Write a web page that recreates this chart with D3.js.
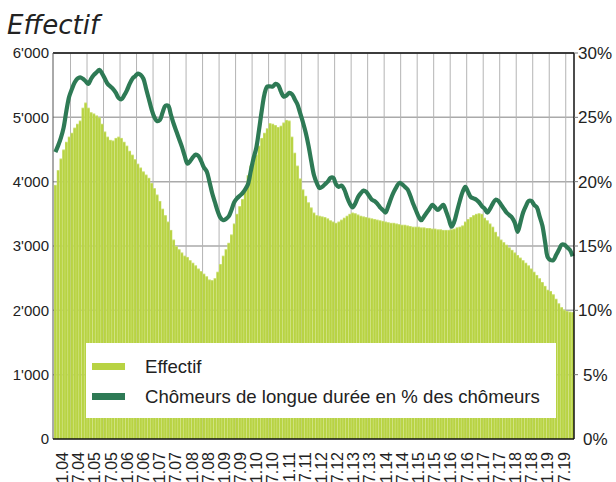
<!DOCTYPE html>
<html>
<head>
<meta charset="utf-8">
<script src="https://cdn.jsdelivr.net/npm/d3@7"></script>
<style>
  body { margin: 0; background: #fff; }
  svg { display: block; font-family: "Liberation Sans", Arial, sans-serif; }
</style>
</head>
<body>
<div id="chart"></div>
<script>
// Data: monthly values, 1.2004 -> 9.2019
const effectif = [
  3950, 4180, 4360, 4500, 4620, 4700, 4760, 4840, 4900, 4950, 5150, 5230, // 2004
  5150, 5080, 5060, 5030, 5000, 4900, 4780, 4700, 4650, 4640, 4680, 4700, // 2005
  4680, 4620, 4560, 4480, 4420, 4350, 4280, 4220, 4160, 4110, 4060, 3980, // 2006
  3900, 3800, 3700, 3580, 3480, 3380, 3250, 3100, 3000, 2950, 2900, 2850, // 2007
  2830, 2780, 2740, 2700, 2650, 2610, 2570, 2530, 2480, 2470, 2500, 2600, // 2008
  2720, 2850, 2950, 3050, 3180, 3350, 3500, 3620, 3730, 3900, 4100, 4250, // 2009
  4300, 4420, 4560, 4680, 4760, 4830, 4910, 4900, 4880, 4850, 4870, 4920, // 2010
  4960, 4950, 4700, 4450, 4250, 4050, 3880, 3780, 3680, 3600, 3520, 3480, // 2011
  3470, 3460, 3450, 3430, 3400, 3380, 3360, 3380, 3410, 3440, 3470, 3500, // 2012
  3520, 3510, 3490, 3470, 3460, 3450, 3440, 3430, 3420, 3410, 3400, 3390, // 2013
  3380, 3370, 3360, 3360, 3350, 3340, 3330, 3330, 3320, 3310, 3300, 3300, // 2014
  3300, 3290, 3290, 3280, 3280, 3270, 3270, 3260, 3260, 3250, 3250, 3250, // 2015
  3260, 3270, 3290, 3300, 3320, 3380, 3420, 3450, 3480, 3500, 3510, 3500, // 2016
  3440, 3400, 3350, 3300, 3220, 3150, 3100, 3060, 3020, 2980, 2940, 2900, // 2017
  2860, 2820, 2780, 2740, 2700, 2650, 2600, 2550, 2500, 2440, 2380, 2320, // 2018
  2300, 2250, 2180, 2110, 2050, 2010, 1990, 1980, 1975                    // 2019
];

// Chômeurs de longue durée en % des chômeurs
const partLongueDuree = [
  22.3, 22.8, 23.4, 24.2, 25.5, 26.6, 27.2, 27.7, 28.0, 28.1, 28.0, 27.8,
  27.6, 28.0, 28.3, 28.5, 28.7, 28.4, 28.0, 27.6, 27.4, 27.2, 26.9, 26.5,
  26.4, 26.7, 27.1, 27.6, 28.0, 28.2, 28.4, 28.3, 28.0, 27.2, 26.4, 25.6,
  25.0, 24.7, 24.8, 25.4, 25.9, 25.9, 25.2, 24.5, 23.9, 23.3, 22.7, 22.0,
  21.4, 21.6, 21.9, 22.1, 22.0, 21.6, 21.1, 20.8, 20.0, 19.1, 18.4, 17.7,
  17.2, 17.0, 17.1, 17.3, 17.8, 18.4, 18.7, 18.9, 19.1, 19.4, 19.8, 20.8,
  21.8, 22.6, 24.0, 25.5, 26.8, 27.4, 27.4, 27.4, 27.6, 27.5, 27.0, 26.6,
  26.7, 26.9, 26.8, 26.4, 26.0, 25.3, 24.6, 23.8, 22.8, 21.6, 20.5, 19.9,
  19.5, 19.6, 19.8, 20.0, 20.3, 20.3, 19.8, 19.6, 19.7, 19.4, 18.8, 18.3,
  18.0, 18.3, 18.8, 19.1, 19.3, 19.2, 18.9, 18.6, 18.5, 18.3, 18.0, 17.8,
  17.6, 18.1, 18.7, 19.2, 19.6, 19.9, 19.8, 19.6, 19.4, 18.9, 18.3, 17.8,
  17.3, 17.0, 17.3, 17.6, 17.9, 18.2, 18.0, 17.8, 18.0, 18.2, 17.7, 17.1,
  16.5, 16.9, 17.7, 18.5, 19.2, 19.6, 19.2, 18.8, 18.7, 18.6, 18.4, 18.1,
  17.9, 17.6, 17.9, 18.3, 18.6, 18.5, 18.2, 17.9, 17.6, 17.4, 17.2, 16.8,
  16.1, 16.8, 17.6, 18.1, 18.5, 18.5, 18.2, 18.0, 17.3, 16.6, 15.3, 14.1,
  13.9, 13.9, 14.3, 14.7, 15.1, 15.1, 14.9, 14.7, 14.2
];

const xLabels = [
  "1.04","7.04","1.05","7.05","1.06","7.06","1.07","7.07",
  "1.08","7.08","1.09","7.09","1.10","7.10","1.11","7.11",
  "1.12","7.12","1.13","7.13","1.14","7.14","1.15","7.15",
  "1.16","7.16","1.17","7.17","1.18","7.18","1.19","7.19"
];
const yLeftTicks = [0, 1000, 2000, 3000, 4000, 5000, 6000];
const yRightTicks = [0, 5, 10, 15, 20, 25, 30];
const legendLabels = ["Effectif", "Chômeurs de longue durée en % des chômeurs"];

const colBar = "#b8d343";
const colBarLight = "#c8de6c";
const colLine = "#2e7a55";

// Layout
const W = 616, H = 482;
const plot = {left: 53, right: 574, top: 53, bottom: 439};

const svg = d3.select("#chart").append("svg")
  .attr("width", W)
  .attr("height", H);

const x = d3.scaleBand()
  .domain(d3.range(effectif.length))
  .range([plot.left + 1, plot.right]);
const xLab = d3.scalePoint()
  .domain(xLabels)
  .range([62.5, 564]);
const yLeft = d3.scaleLinear().domain([0, 6000]).range([plot.bottom, plot.top]);
const yRight = d3.scaleLinear().domain([0, 30]).range([plot.bottom, plot.top]);

const fmtThousands = d3.formatLocale({decimal: ".", thousands: "'", grouping: [3], currency: ["", ""]}).format(",");

// Title
svg.append("text")
  .attr("x", 7)
  .attr("y", 34)
  .attr("font-family", "DejaVu Sans, Verdana, sans-serif")
  .attr("font-style", "italic")
  .attr("font-size", 26)
  .attr("fill", "#222")
  .text("Effectif");

// Grid
const grid = svg.append("g");
grid.selectAll("line.h").data(yLeftTicks.slice(1)).enter().append("line")
  .attr("x1", plot.left).attr("x2", plot.right)
  .attr("y1", (d) => yLeft(d)).attr("y2", (d) => yLeft(d))
  .attr("stroke", "#aaa").attr("stroke-width", 1.5);
grid.selectAll("line.v").data(d3.range(6, effectif.length, 6)).enter().append("line")
  .attr("x1", (d) => x(d)).attr("x2", (d) => x(d))
  .attr("y1", plot.top).attr("y2", plot.bottom)
  .attr("stroke", "#b4b4b4").attr("stroke-width", 1);

// Bars (light band behind, darker core in front)
const bars = svg.append("g");
bars.selectAll("rect.back").data(effectif).enter().append("rect")
  .attr("x", (d, i) => x(i))
  .attr("y", (d) => yLeft(d))
  .attr("width", x.bandwidth())
  .attr("height", (d) => plot.bottom - yLeft(d))
  .attr("fill", colBarLight);
bars.selectAll("rect.front").data(effectif).enter().append("rect")
  .attr("x", (d, i) => x(i) + x.bandwidth() * 0.15)
  .attr("y", (d) => yLeft(d) + 1)
  .attr("width", x.bandwidth() * 0.7)
  .attr("height", (d) => plot.bottom - yLeft(d) - 1)
  .attr("fill", colBar);

// Legend
const legend = svg.append("g");
legend.append("rect")
  .attr("x", 86).attr("y", 343)
  .attr("width", 470).attr("height", 75)
  .attr("fill", "#fff");
legend.selectAll("rect.sw").data([colBar, colLine]).enter().append("rect")
  .attr("x", 92)
  .attr("y", (d, i) => 363 + i * 30)
  .attr("width", 33).attr("height", 7)
  .attr("fill", (d) => d);
legend.selectAll("text").data(legendLabels).enter().append("text")
  .attr("x", 145)
  .attr("y", (d, i) => 373 + i * 30)
  .attr("font-size", 18.6)
  .attr("fill", "#222")
  .text((d) => d);

// Line
const line = d3.line()
  .x((d, i) => x(i) + x.bandwidth() / 2)
  .y((d) => yRight(d))
  .curve(d3.curveCatmullRom);
svg.append("path")
  .datum(partLongueDuree)
  .attr("d", line)
  .attr("fill", "none")
  .attr("stroke", colLine)
  .attr("stroke-width", 4.2)
  .attr("stroke-linejoin", "round");

// Frame
const frame = svg.append("g").attr("stroke", "#111");
frame.append("line").attr("x1", plot.left).attr("x2", plot.right).attr("y1", plot.top).attr("y2", plot.top).attr("stroke-width", 1.5);
frame.append("line").attr("x1", plot.right).attr("x2", plot.right).attr("y1", plot.top).attr("y2", plot.bottom).attr("stroke-width", 1.5);
frame.append("line").attr("x1", plot.left).attr("x2", plot.left).attr("y1", plot.top).attr("y2", plot.bottom).attr("stroke-width", 1).attr("stroke", "#555");
frame.append("line").attr("x1", plot.left).attr("x2", plot.right).attr("y1", plot.bottom).attr("y2", plot.bottom).attr("stroke-width", 1.5);

// Left axis labels
svg.append("g").selectAll("text").data(yLeftTicks).enter().append("text")
  .attr("x", 49)
  .attr("y", (d) => yLeft(d))
  .attr("dy", "0.35em")
  .attr("text-anchor", "end")
  .attr("font-size", 15)
  .attr("fill", "#222")
  .text((d) => fmtThousands(d));

// Right axis ticks + labels
const right = svg.append("g");
right.selectAll("line").data(yRightTicks.slice(1)).enter().append("line")
  .attr("x1", plot.right).attr("x2", plot.right + 4)
  .attr("y1", (d) => yRight(d)).attr("y2", (d) => yRight(d))
  .attr("stroke", "#777");
right.selectAll("text").data(yRightTicks).enter().append("text")
  .attr("x", (d) => d < 10 ? 583 : 578)
  .attr("y", (d) => yRight(d))
  .attr("dy", "0.35em")
  .attr("font-size", 17)
  .attr("fill", "#222")
  .text((d) => d + "%");

// X labels, rotated
svg.append("g").selectAll("text").data(xLabels).enter().append("text")
  .attr("transform", (d) => `translate(${xLab(d)},452) rotate(-90)`)
  .attr("dy", "0.35em")
  .attr("text-anchor", "end")
  .attr("font-size", 16)
  .attr("fill", "#222")
  .text((d) => d);
</script>
</body>
</html>
